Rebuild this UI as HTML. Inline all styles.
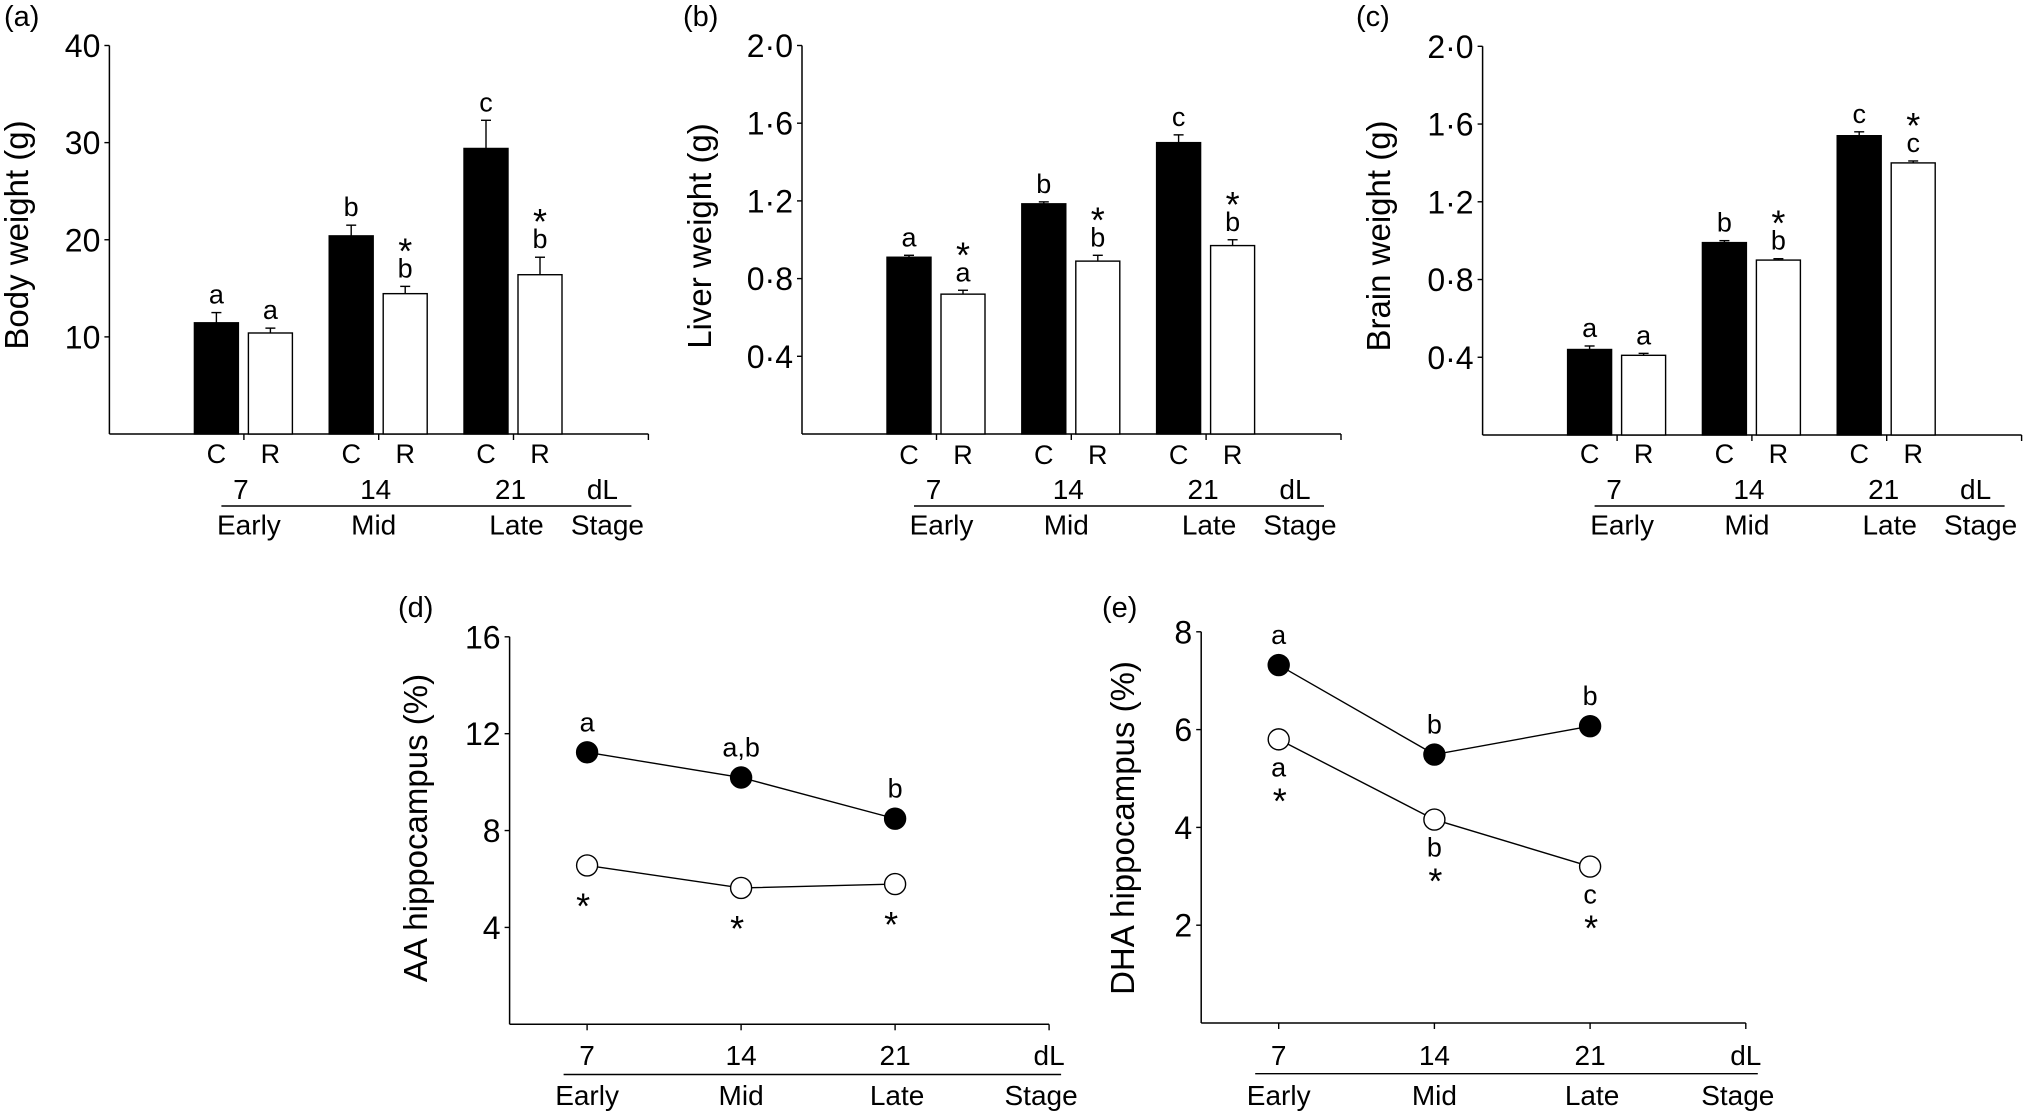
<!DOCTYPE html>
<html><head><meta charset="utf-8"><style>
html,body{margin:0;padding:0;background:#fff;overflow:hidden;}
svg{display:block;font-family:"Liberation Sans",Arial,sans-serif;}
</style></head><body>
<svg id="fig" width="2026" height="1115" viewBox="0 0 2026 1115" xmlns="http://www.w3.org/2000/svg"></svg>
<script>
// ---- data ----
const groupDays = ["7","14","21"];
const stageNames = ["Early","Mid","Late"];
const bodyC = [11.45, 20.4, 29.4];
const bodyCErr = [1.05, 1.1, 2.9];
const bodyR = [10.4, 14.45, 16.4];
const bodyRErr = [0.5, 0.75, 1.8];
const bodyTicks = [10, 20, 30, 40];
const bodyTickLabels = ["10","20","30","40"];
const bodyCLetters = ["a","b","c"];
const bodyRLetters = ["a","b","b"];
const bodyRStar = [false, true, true];

const liverC = [0.91, 1.185, 1.50];
const liverCErr = [0.01, 0.01, 0.04];
const liverR = [0.72, 0.89, 0.97];
const liverRErr = [0.02, 0.03, 0.03];
const weightTicks = [0.4, 0.8, 1.2, 1.6, 2.0];
const weightTickLabels = ["0·4","0·8","1·2","1·6","2·0"];
const liverCLetters = ["a","b","c"];
const liverRLetters = ["a","b","b"];
const liverRStar = [true, true, true];

const brainC = [0.44, 0.99, 1.54];
const brainCErr = [0.018, 0.01, 0.02];
const brainR = [0.41, 0.90, 1.40];
const brainRErr = [0.01, 0.007, 0.01];
const brainCLetters = ["a","b","c"];
const brainRLetters = ["a","b","c"];
const brainRStar = [false, true, true];

const aaC = [11.23, 10.19, 8.49];
const aaR = [6.56, 5.63, 5.79];
const aaTicks = [4, 8, 12, 16];
const aaCLetters = ["a","a,b","b"];
const dhaC = [7.32, 5.49, 6.07];
const dhaR = [5.8, 4.16, 3.2];
const dhaTicks = [2, 4, 6, 8];
const dhaCLetters = ["a","b","b"];
const dhaRLetters = ["a","b","c"];

const NS = "http://www.w3.org/2000/svg";
const svg = document.getElementById("fig");
function mk(tag, attrs, parent, text){
  const e = document.createElementNS(NS, tag);
  for (const k in attrs) e.setAttribute(k, attrs[k]);
  if (text !== undefined) e.textContent = text;
  (parent||svg).appendChild(e);
  return e;
}
function txt(parent, x, y, s, size, anchor, name){
  const t = mk("text", {x:x, y:y, "font-size":size, "text-anchor":anchor||"middle", fill:"#000"}, parent, s);
  
  
  return t;
}
function star(parent, x, center, name){
  const t = mk("text", {x:x, y:center+21, "font-size":36, "text-anchor":"middle", fill:"#000"}, parent, "*");
  
  
}
function ylabel(parent, s, baseX, cy){
  const t = txt(parent, 0, 0, s, 33, "middle", "y-axis-title");
  t.setAttribute("transform", `translate(${baseX},${cy}) rotate(-90)`);
}

function barPanel(cfg){
  const g = mk("g", {});
  
  
  const ax = cfg.ax, yTop = cfg.top, yZero = cfg.zero;
  const yScale = v => yZero - (v / cfg.ymax) * (yZero - yTop);
  const xEnd = ax + 539;
  const tickX = i => ax + 134.5 + 134.8 * i;
  const yAx = mk("line", {x1:ax, y1:yTop, x2:ax, y2:yZero, stroke:"#000", "stroke-width":1.5}, g);
   
  const xAx = mk("line", {x1:ax, y1:yZero, x2:xEnd, y2:yZero, stroke:"#000", "stroke-width":1.5}, g);
   
  for (let i = 0; i < 4; i++){
    const tx = i < 3 ? tickX(i) : xEnd;
    mk("line", {x1:tx, y1:yZero, x2:tx, y2:yZero+6, stroke:"#000", "stroke-width":1.4}, g);
  }
  cfg.ticks.forEach((v, i) => {
    const y = yScale(v);
    mk("line", {x1:ax-5, y1:y, x2:ax, y2:y, stroke:"#000", "stroke-width":1.4}, g);
    txt(g, ax-9, y+11.5, cfg.tickLabels[i], 32, "end", "y-tick-label");
  });
  cfg.cVals.forEach((v, i) => {
    const t = tickX(i);
    const series = [
      {val:v, err:cfg.cErr[i], x0:t-49.5, fill:"#000", nm:"bar-control-"+groupDays[i], letter:cfg.cLetters[i], st:false},
      {val:cfg.rVals[i], err:cfg.rErr[i], x0:t+4.5, fill:"#fff", nm:"bar-restricted-"+groupDays[i], letter:cfg.rLetters[i], st:cfg.rStar[i]}
    ];
    series.forEach(s => {
      const y = yScale(s.val), w = 44, cx = s.x0 + w/2;
      const ye = yScale(s.val + s.err);
      mk("line", {x1:cx, y1:y, x2:cx, y2:ye, stroke:"#000", "stroke-width":1.4}, g);
      mk("line", {x1:cx-5, y1:ye, x2:cx+5, y2:ye, stroke:"#000", "stroke-width":1.4}, g);
      const r = mk("rect", {x:s.x0, y:y, width:w, height:yZero-y, fill:s.fill, stroke:"#000", "stroke-width":1.4}, g);
      
      
      const lb = ye - 9;
      txt(g, cx, lb, s.letter, 27, "middle", "significance-letter");
      if (s.st) star(g, cx, lb - 35, "significance-star");
      txt(g, cx, cfg.crY, s.fill === "#000" ? "C" : "R", 27, "middle", "group-label");
    });
    txt(g, t - 3, cfg.dayY, groupDays[i], 28, "middle", "day-label");
    txt(g, t + [5,-5,3][i], cfg.stageY, stageNames[i], 28, "middle", "stage-label");
  });
  txt(g, ax + 493, cfg.dayY, "dL", 28, "middle", "day-unit-label");
  txt(g, ax + 498, cfg.stageY, "Stage", 28, "middle", "stage-unit-label");
  mk("line", {x1:ax+112, y1:cfg.lineY, x2:ax+522, y2:cfg.lineY, stroke:"#000", "stroke-width":1.4}, g);
  ylabel(g, cfg.ylabel, cfg.ylx, cfg.yly);
  txt(g, cfg.pLx, cfg.pLy, cfg.panel, 29, "start", "panel-label");
}

function linePanel(cfg){
  const g = mk("g", {});
  
  
  const ax = cfg.ax, yTop = cfg.top, yZero = cfg.zero;
  const yScale = v => yZero - (v / cfg.ymax) * (yZero - yTop);
  const xScale = i => ax + 77.5 + cfg.step * i;
  const xEnd = xScale(3);
  const yAx = mk("line", {x1:ax, y1:yTop, x2:ax, y2:yZero, stroke:"#000", "stroke-width":1.5}, g);
   
  const xAx = mk("line", {x1:ax, y1:yZero, x2:xEnd, y2:yZero, stroke:"#000", "stroke-width":1.5}, g);
   
  for (let i = 0; i < 4; i++){
    const tx = xScale(i);
    mk("line", {x1:tx, y1:yZero, x2:tx, y2:yZero+6, stroke:"#000", "stroke-width":1.4}, g);
  }
  cfg.ticks.forEach(v => {
    const y = yScale(v);
    mk("line", {x1:ax-5, y1:y, x2:ax, y2:y, stroke:"#000", "stroke-width":1.4}, g);
    txt(g, ax-9, y+11.5, String(v), 32, "end", "y-tick-label");
  });
  [{vals:cfg.cVals, fill:"#000", nm:"control"}, {vals:cfg.rVals, fill:"#fff", nm:"restricted"}].forEach(s => {
    const pts = s.vals.map((v, i) => xScale(i) + "," + yScale(v)).join(" ");
    const pl = mk("polyline", {points:pts, fill:"none", stroke:"#000", "stroke-width":1.4}, g);
    
    
    s.vals.forEach((v, i) => {
      const c = mk("circle", {cx:xScale(i), cy:yScale(v), r:10.5, fill:s.fill, stroke:"#000", "stroke-width":1.4}, g);
      
      
    });
  });
  cfg.cVals.forEach((v, i) => {
    txt(g, xScale(i), yScale(v) - 21, cfg.cLetters[i], 27, "middle", "significance-letter");
  });
  cfg.rVals.forEach((v, i) => {
    const x = xScale(i), y = yScale(v);
    if (cfg.rLetters) {
      txt(g, x, y + 37, cfg.rLetters[i], 27, "middle", "significance-letter");
      star(g, x + 1, y + 53, "significance-star");
    } else {
      star(g, x - 4, y + 32, "significance-star");
    }
    txt(g, x, cfg.dayY, groupDays[i], 28, "middle", "day-label");
    txt(g, x + (i===2?2:0), cfg.stageY, stageNames[i], 28, "middle", "stage-label");
  });
  txt(g, xEnd, cfg.dayY, "dL", 28, "middle", "day-unit-label");
  txt(g, xEnd - 8, cfg.stageY, "Stage", 28, "middle", "stage-unit-label");
  mk("line", {x1:ax+54, y1:cfg.lineY, x2:xEnd+12, y2:cfg.lineY, stroke:"#000", "stroke-width":1.4}, g);
  ylabel(g, cfg.ylabel, cfg.ylx, cfg.yly);
  txt(g, cfg.pLx, cfg.pLy, cfg.panel, 29, "start", "panel-label");
}

barPanel({name:"panel-a-body-weight", ax:109.4, top:45.5, zero:434, ymax:40, ticks:bodyTicks, tickLabels:bodyTickLabels,
  cVals:bodyC, cErr:bodyCErr, rVals:bodyR, rErr:bodyRErr, cLetters:bodyCLetters, rLetters:bodyRLetters, rStar:bodyRStar,
  crY:463, dayY:499, lineY:506, stageY:534.5, ylabel:"Body weight (g)", ylx:28, yly:235, panel:"(a)", pLx:4, pLy:26});
barPanel({name:"panel-b-liver-weight", ax:802, top:45.5, zero:434, ymax:2.0, ticks:weightTicks, tickLabels:weightTickLabels,
  cVals:liverC, cErr:liverCErr, rVals:liverR, rErr:liverRErr, cLetters:liverCLetters, rLetters:liverRLetters, rStar:liverRStar,
  crY:464, dayY:499, lineY:506, stageY:534.5, ylabel:"Liver weight (g)", ylx:711, yly:236, panel:"(b)", pLx:683, pLy:26});
barPanel({name:"panel-c-brain-weight", ax:1482.6, top:46.3, zero:435, ymax:2.0, ticks:weightTicks, tickLabels:weightTickLabels,
  cVals:brainC, cErr:brainCErr, rVals:brainR, rErr:brainRErr, cLetters:brainCLetters, rLetters:brainRLetters, rStar:brainRStar,
  crY:463, dayY:499, lineY:506, stageY:534.5, ylabel:"Brain weight (g)", ylx:1390, yly:236, panel:"(c)", pLx:1356, pLy:26});
linePanel({name:"panel-d-aa-hippocampus", ax:509.6, top:636.8, zero:1024.3, ymax:16, ticks:aaTicks, step:154,
  cVals:aaC, rVals:aaR, cLetters:aaCLetters, rLetters:null,
  dayY:1065, lineY:1074.5, stageY:1105, ylabel:"AA hippocampus (%)", ylx:427, yly:828, panel:"(d)", pLx:398, pLy:617});
linePanel({name:"panel-e-dha-hippocampus", ax:1201.2, top:631.8, zero:1023, ymax:8, ticks:dhaTicks, step:155.7,
  cVals:dhaC, rVals:dhaR, cLetters:dhaCLetters, rLetters:dhaRLetters,
  dayY:1065, lineY:1073.7, stageY:1105, ylabel:"DHA hippocampus (%)", ylx:1134, yly:828, panel:"(e)", pLx:1102, pLy:617});
</script>
</body></html>
